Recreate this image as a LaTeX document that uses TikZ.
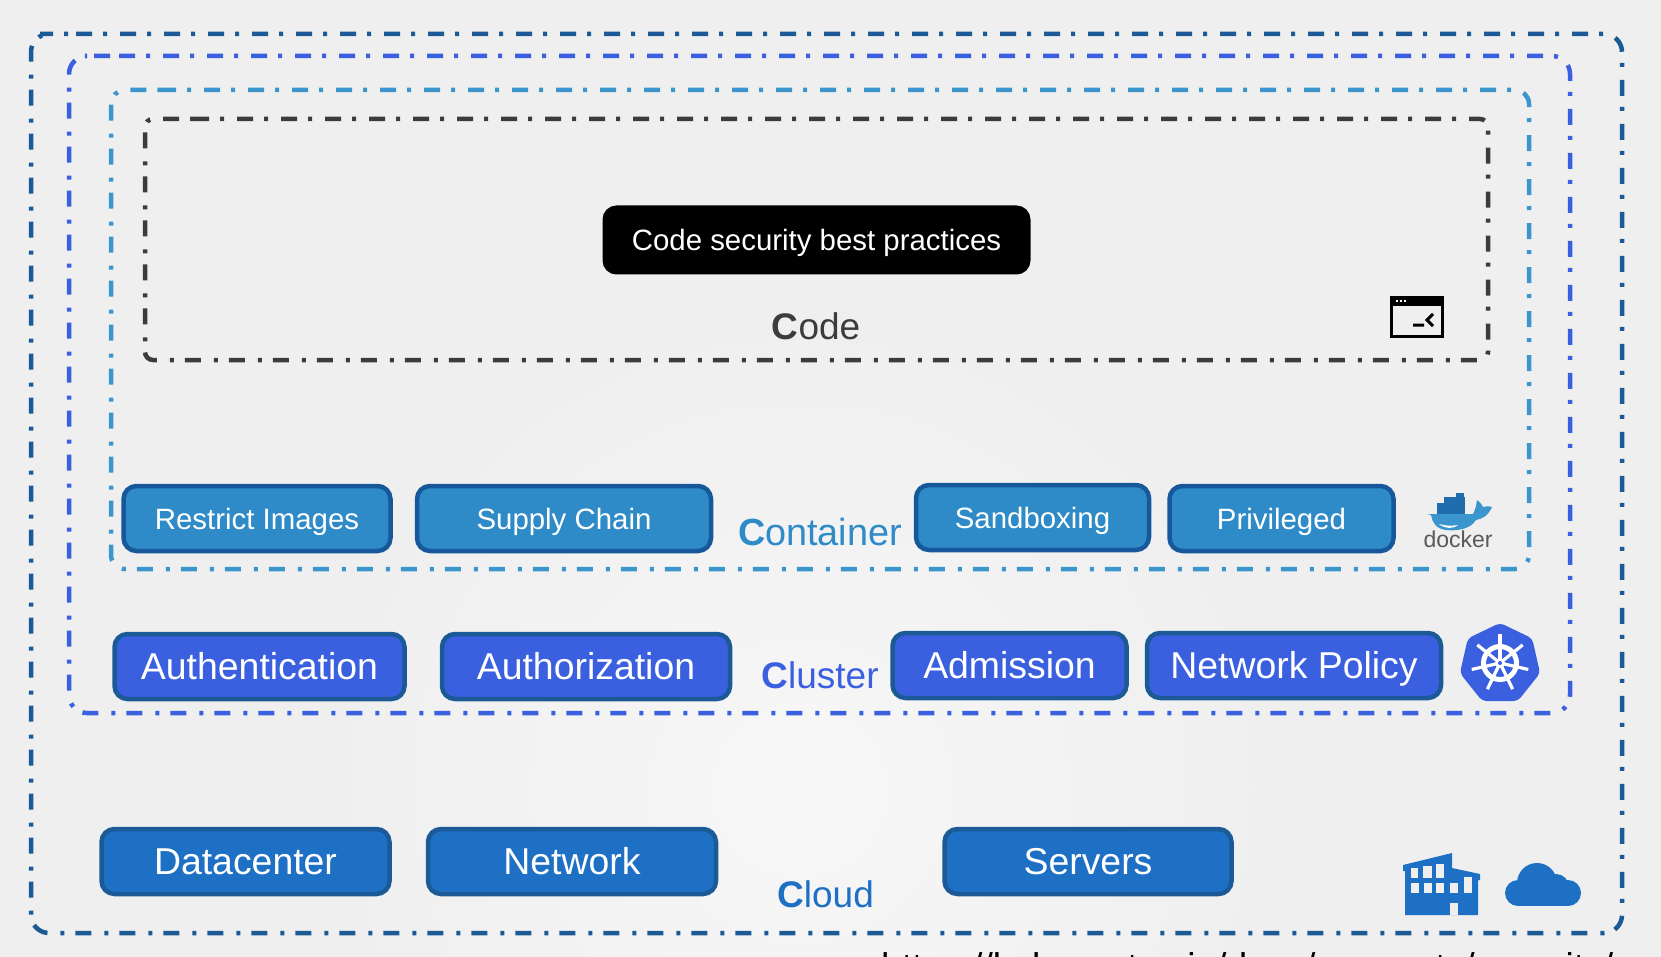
\documentclass[tikz,border=0pt]{standalone}
\usepackage{fontspec}
\setmainfont{Liberation Sans}
\usepackage{xcolor}
\usetikzlibrary{positioning,shapes.geometric,calc}
\definecolor{bgGray}{HTML}{EFEFEF}
\definecolor{bgLight}{HTML}{F7F7F7}
\definecolor{cloudDark}{HTML}{1B5A96}
\definecolor{cloudBlue}{HTML}{1E70C4}
\definecolor{clusterBlue}{HTML}{3A60E0}
\definecolor{containerBlue}{HTML}{2E8BC8}
\definecolor{containerLine}{HTML}{3A96CC}
\definecolor{containerDark}{HTML}{17589B}
\definecolor{codeGray}{HTML}{3C3C3C}

\begin{document}
\begin{tikzpicture}[
        x=1pt, y=-1pt,
        frame/.style={line width=4.5pt, rounded corners=18pt, dash pattern=on 16pt off 11pt on 4pt off 13pt},
        btn/.style={line width=4.5pt, rounded corners=13pt, minimum height=65pt, inner sep=0pt, text=white, align=center},
        smallbtn/.style={btn, draw=containerDark, fill=containerBlue, text height=27pt, text depth=6pt, font=\fontsize{29.4}{33}\selectfont},
        midbtn/.style={btn, draw=cloudDark, fill=clusterBlue, text height=32pt, text depth=7pt, font=\fontsize{37.4}{42}\selectfont},
        lowbtn/.style={btn, draw=cloudDark, fill=cloudBlue, text height=32pt, text depth=7pt, font=\fontsize{37.4}{42}\selectfont},
        layer/.style={font=\fontsize{37}{41}\selectfont, inner sep=0pt}
    ]
        \useasboundingbox (0,0) rectangle (1661,957);
        \clip (0,0) rectangle (1661,957);
        \fill[bgGray] (0,0) rectangle (1661,957);
        \shade[inner color=bgLight, outer color=bgGray] (800,790) circle (480);

        % nested frames
        \draw[frame, draw=cloudDark] (58,34) -- (1622,34) -- (1622,933) -- (31,933) -- (31,34) -- cycle;
        \draw[frame, draw=clusterBlue] (101,56) -- (1570,56) -- (1570,713) -- (69,713) -- (69,56) -- cycle;
        \draw[frame, draw=containerLine, rounded corners=14pt] (146,90) -- (1529,90) -- (1529,569) -- (111,569) -- (111,90) -- cycle;
        \draw[frame, draw=codeGray, rounded corners=8pt] (185,119) -- (1488,119) -- (1488,360) -- (145,360) -- (145,119) -- cycle;

        % code
        \node[draw=black, fill=black, line width=2pt, rounded corners=13pt, minimum width=426pt, minimum height=67pt, inner sep=0pt, text=white, text height=27pt, text depth=6pt, font=\fontsize{29.4}{33}\selectfont] (practices) at (816.5,240) {Code security best practices};
        \node[layer, text=codeGray] (codelabel) at (816,326) {{\bfseries C}ode};

        % container row
        \node[smallbtn, minimum width=267pt] (restrict) at (257,518.5) {Restrict Images};
        \node[smallbtn, minimum width=294pt, right=22pt of restrict] (supply) {Supply Chain};
        \node[layer, text=containerBlue, font=\fontsize{37.8}{41}\selectfont] (containerlabel) at (820,532) {{\bfseries C}ontainer};
        \node[smallbtn, minimum width=233pt] (sandbox) at (1032.5,517.5) {Sandboxing};
        \node[smallbtn, minimum width=224pt, right=16pt of sandbox, yshift=-1pt] (privileged) {Privileged};

        % cluster row
        \node[midbtn, minimum width=290pt] (authn) at (259.5,666.5) {Authentication};
        \node[midbtn, minimum width=288pt, right=33pt of authn] (authz) {Authorization};
        \node[layer, text=clusterBlue] (clusterlabel) at (820,675) {{\bfseries C}luster};
        \node[midbtn, minimum width=234pt] (admission) at (1009.5,665.5) {Admission};
        \node[midbtn, minimum width=294pt, right=16pt of admission] (netpol) {Network Policy};

        % cloud row
        \node[lowbtn, minimum width=288pt] (datacenter) at (245.5,861.5) {Datacenter};
        \node[lowbtn, minimum width=288pt, right=34pt of datacenter] (network) {Network};
        \node[layer, text=cloudBlue] (cloudlabel) at (825.5,894) {{\bfseries C}loud};
        \node[lowbtn, minimum width=287pt] (servers) at (1088,861.5) {Servers};

        % terminal icon
        \draw[black, line width=3.5pt] (1391.5,297.5) rectangle (1442.5,336.5);
        \fill[black] (1391.5,297.5) rectangle (1442.5,306);
        \foreach \xa in {1396,1400,1404} {\fill[white] (\xa,300) rectangle +(2,2);}
        \draw[black, line width=3pt] (1413,325) -- (1424,325) (1433,314) -- (1427,320) -- (1433,326);

        % docker icon
        \fill[containerDark!60!containerBlue] (1437,503) rectangle (1465,515);
        \fill[containerDark!60!containerBlue] (1444,497) rectangle (1465,503);
        \fill[containerDark!60!containerBlue] (1456,493) rectangle (1464,497);
        \fill[containerLine] (1427,514) -- (1473,514) .. controls (1476,508) and (1476,506) .. (1477,500) .. controls (1481,503) and (1482,505) .. (1483,507) .. controls (1486,506) and (1489,506) .. (1492,507) .. controls (1488,516) and (1482,519) .. (1476,520) .. controls (1470,530) and (1455,531) .. (1446,530) .. controls (1436,529) and (1432,522) .. (1431,515) -- cycle;
        \fill[white] (1439,524) .. controls (1446,526) and (1452,526) .. (1458,525) .. controls (1454,529) and (1445,529) .. cycle;
        \node[inner sep=0pt, text=black!65, font=\fontsize{23}{25}\selectfont] (dockerlabel) at (1458,539) {docker};

        % kubernetes icon
        \node[regular polygon, regular polygon sides=7, minimum size=80pt, inner sep=0pt, fill=clusterBlue, draw=clusterBlue, line width=2pt, rounded corners=4pt] (k8s) at (1500,664) {};
        \coordinate (hub) at (1500,663);
        \draw[white, line width=5pt] (hub) circle (16.5);
        \foreach \i in {0,...,6} {
            \draw[white, line width=3.2pt] ($(hub)+(90+\i*360/7:4pt)$) -- ($(hub)+(90+\i*360/7:29pt)$);
        }
        \fill[white] (hub) circle (5);
        \fill[clusterBlue] (hub) circle (2);

        % building icon
        \fill[cloudBlue] (1403,865) -- (1452,853) -- (1452,868) -- (1480,874) -- (1480,880) -- (1478,880) -- (1478,915) -- (1405,915) -- (1405,871) -- (1403,871) -- cycle;
        \fill[bgGray] (1411,868) rectangle (1418,878);
        \fill[bgGray] (1423,866) rectangle (1432,878);
        \fill[bgGray] (1436,864) rectangle (1444,878);
        \foreach \xa in {1411,1424,1436,1450} {\fill[bgGray] (\xa,883) rectangle +(8,10);}
        \fill[bgGray] (1464,877) rectangle (1472,893);
        \fill[bgGray] (1450,903) rectangle (1458,915);

        % cloud icon
        \fill[cloudBlue] (1518,893) circle (13);
        \fill[cloudBlue] (1537,883) circle (20);
        \fill[cloudBlue] (1556,887) circle (13);
        \fill[cloudBlue] (1568,893) circle (13);
        \fill[cloudBlue] (1518,890) rectangle (1568,906);

        % source line
        \node[anchor=base west, inner sep=0pt, text=black, font=\fontsize{37.2}{41}\selectfont] (source) at (881,979) {https://kubernetes.io/docs/concepts/security/};
\end{tikzpicture}
\end{document}
